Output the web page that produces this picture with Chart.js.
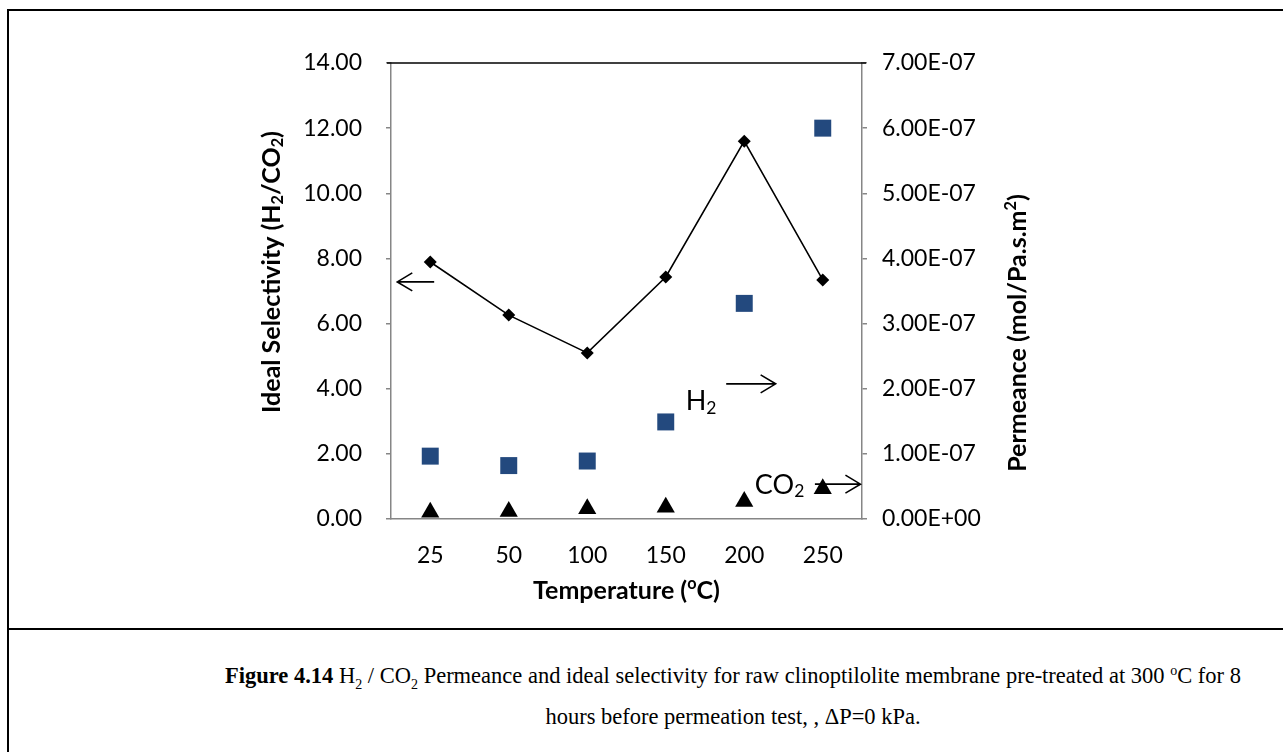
<!DOCTYPE html>
<html>
<head>
<meta charset="utf-8">
<script src="https://cdn.jsdelivr.net/npm/chart.js@4"></script>
<style>
  body { margin: 0; background: #fff; width: 1283px; height: 752px; overflow: hidden; position: relative; }
  #frame { position: absolute; left: 7px; top: 9px; width: 1400px; height: 800px; border-left: 2px solid #000; border-top: 2px solid #000; }
  #sep { position: absolute; left: 7px; top: 628px; width: 1400px; height: 0; border-top: 2px solid #000; }
  #chart { position: absolute; left: 0; top: 0; }
  #caption { position: absolute; left: 9px; top: 655px; width: 1448px; text-align: center;
             font-family: "Liberation Serif", "Times New Roman", serif; font-size: 22.5px; line-height: 41px; color: #000; }
  #caption sub, #caption sup { font-size: 14px; line-height: 0; }
</style>
</head>
<body>
<div id="frame"></div>
<div id="sep"></div>
<canvas id="chart" width="1283" height="628"></canvas>
<div id="caption"><b>Figure 4.14</b> H<sub>2</sub> / CO<sub>2</sub> Permeance and ideal selectivity for raw clinoptilolite membrane pre-treated at 300 <sup>o</sup>C for 8<br>hours before permeation test, , &Delta;P=0 kPa.</div>

<script>
/*=============== DATA ===============*/
const temperatures = ['25', '50', '100', '150', '200', '250']
const selectivity = [7.89, 6.26, 5.10, 7.43, 11.60, 7.34]
const h2Permeance = [9.65e-8, 8.2e-8, 8.9e-8, 1.49e-7, 3.31e-7, 6.0e-7]
const co2Permeance = [1.04e-8, 1.15e-8, 1.56e-8, 1.81e-8, 2.69e-8, 4.64e-8]

const leftTicks = { min: 0, max: 14, step: 2 }
const rightTicks = { min: 0, max: 7e-7, step: 1e-7 }

const FONT = 'Lato'
const AXIS_GREY = '#868686'
const TICK_SIZE = 23
const TITLE_SIZE = 25

// 7.00E-07 style labels
const sciLabel = (v) => {
  const [m, e] = Number(v).toExponential(2).split('e')
  const n = parseInt(e, 10)
  return m + 'E' + (n < 0 ? '-' : '+') + String(Math.abs(n)).padStart(2, '0')
}

// draw text with sub / superscript pieces: [[text, 'sub'|'sup'|'']]
const richWidth = (ctx, parts, size, weight) => {
  let w = 0
  parts.forEach(([t, mode]) => {
    ctx.font = `${weight} ${mode ? size * 0.65 : size}px ${FONT}`
    w += ctx.measureText(t).width
  })
  return w
}

const drawRich = (ctx, parts, x, y, size, weight, rotate) => {
  ctx.save()
  ctx.translate(x, y)
  if (rotate) ctx.rotate(-Math.PI / 2)
  ctx.fillStyle = '#000'
  ctx.textBaseline = 'middle'
  ctx.textAlign = 'left'
  let cx = -richWidth(ctx, parts, size, weight) / 2
  parts.forEach(([t, mode]) => {
    const s = mode ? size * 0.65 : size
    ctx.font = `${weight} ${s}px ${FONT}`
    const dy = mode === 'sub' ? size * 0.25 : mode === 'sup' ? -size * 0.3 : 0
    ctx.fillText(t, cx, dy)
    cx += ctx.measureText(t).width
  })
  ctx.restore()
}

const arrow = (ctx, x1, x2, y) => {
  // arrow from x1 to x2, head at x2
  const dir = x2 > x1 ? 1 : -1
  ctx.save()
  ctx.strokeStyle = '#000'
  ctx.lineWidth = 1.6
  ctx.beginPath()
  ctx.moveTo(x1, y)
  ctx.lineTo(x2, y)
  ctx.moveTo(x2 - dir * 15, y - 9)
  ctx.lineTo(x2, y)
  ctx.lineTo(x2 - dir * 15, y + 9)
  ctx.stroke()
  ctx.restore()
}

/*=============== EXTRAS: titles, notes ===============*/
const extras = {
  id: 'extras',
  afterDraw(chart) {
    const { ctx, chartArea: area, scales } = chart
    const x = scales.x, y = scales.y

    // top border of plot
    ctx.save()
    ctx.strokeStyle = '#000'
    ctx.lineWidth = 1.5
    ctx.beginPath()
    ctx.moveTo(area.left - 4, area.top)
    ctx.lineTo(area.right + 4, area.top)
    ctx.stroke()
    ctx.restore()

    // axis titles
    drawRich(ctx, [['Ideal Selectivity (H', ''], ['2', 'sub'], ['/CO', ''], ['2', 'sub'], [')', '']],
      272, 272, TITLE_SIZE, 'bold', true)
    drawRich(ctx, [['Permeance (mol/Pa.s.m', ''], ['2', 'sup'], [')', '']],
      1018, 333, TITLE_SIZE, 'bold', true)
    drawRich(ctx, [['Temperature (', ''], ['o', 'sup'], ['C)', '']],
      (area.left + area.right) / 2, 591, TITLE_SIZE, 'bold', false)

    // notes with arrows
    arrow(ctx, x.getPixelForValue(0.05), x.getPixelForValue(-0.42), y.getPixelForValue(7.28))
    drawRich(ctx, [['H', ''], ['2', 'sub']], x.getPixelForValue(3.45), y.getPixelForValue(3.6), 27, 'normal', false)
    arrow(ctx, x.getPixelForValue(3.77), x.getPixelForValue(4.4), y.getPixelForValue(4.15))
    drawRich(ctx, [['CO', ''], ['2', 'sub']], x.getPixelForValue(4.45), y.getPixelForValue(1.05), 27, 'normal', false)
    arrow(ctx, x.getPixelForValue(4.9), x.getPixelForValue(5.48), y.getPixelForValue(1.07))
  }
}

/*=============== CHART ===============*/
const ctx = document.getElementById('chart').getContext('2d')

new Chart(ctx, {
  type: 'line',
  data: {
    labels: temperatures,
    datasets: [
      {
        label: 'Ideal selectivity',
        data: selectivity,
        yAxisID: 'y',
        borderColor: '#000',
        backgroundColor: '#000',
        borderWidth: 1.6,
        pointStyle: 'rectRot',
        pointRadius: 6.5,
        pointBorderWidth: 0,
        tension: 0
      },
      {
        label: 'H2',
        data: h2Permeance,
        yAxisID: 'y1',
        showLine: false,
        backgroundColor: '#23497e',
        borderColor: '#23497e',
        pointStyle: 'rect',
        pointRadius: 12,
        pointBorderWidth: 0
      },
      {
        label: 'CO2',
        data: co2Permeance,
        yAxisID: 'y1',
        showLine: false,
        backgroundColor: '#000',
        borderColor: '#000',
        pointStyle: 'triangle',
        pointRadius: 10.5,
        pointBorderWidth: 0
      }
    ]
  },
  options: {
    responsive: false,
    animation: false,
    layout: { padding: { top: 63, left: 0, right: 0, bottom: 0 } },
    plugins: {
      legend: { display: false },
      tooltip: { enabled: false }
    },
    scales: {
      x: {
        offset: true,
        grid: { display: false, drawTicks: false },
        border: { color: AXIS_GREY, width: 1.5 },
        ticks: { color: '#000', font: { family: FONT, size: TICK_SIZE }, padding: 23, maxRotation: 0 },
        afterFit: (s) => { s.height = 109 }
      },
      y: {
        position: 'left',
        min: leftTicks.min,
        max: leftTicks.max,
        grid: { drawOnChartArea: false, drawTicks: true, tickLength: 5, color: AXIS_GREY, lineWidth: 1.5 },
        border: { color: AXIS_GREY, width: 1.5 },
        ticks: {
          stepSize: leftTicks.step,
          color: '#000',
          font: { family: FONT, size: TICK_SIZE },
          padding: 24,
          callback: (v) => Number(v).toFixed(2)
        },
        afterFit: (s) => { s.width = 391 }
      },
      y1: {
        position: 'right',
        min: rightTicks.min,
        max: rightTicks.max,
        grid: { drawOnChartArea: false, drawTicks: true, tickLength: 5, color: AXIS_GREY, lineWidth: 1.5 },
        border: { color: AXIS_GREY, width: 1.5 },
        ticks: {
          stepSize: rightTicks.step,
          color: '#000',
          font: { family: FONT, size: TICK_SIZE },
          padding: 15,
          callback: (v) => sciLabel(v)
        },
        afterFit: (s) => { s.width = 421 }
      }
    }
  },
  plugins: [extras]
})
</script>
</body>
</html>
